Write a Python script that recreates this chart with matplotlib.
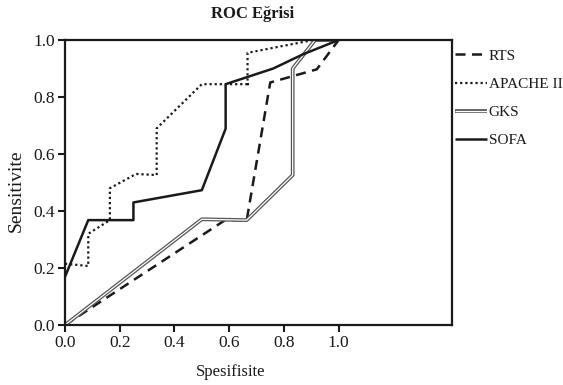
import matplotlib
matplotlib.use("Agg")
import matplotlib.pyplot as plt
import matplotlib.patheffects as pe
from matplotlib.lines import Line2D

plt.rcParams['font.family'] = ['Liberation Serif', 'DejaVu Serif']

# 1 - specificity (x) and sensitivity (y) for each score
rts_x = [0.0, 0.585, 0.664, 0.75, 0.92, 1.0]
rts_y = [0.0, 0.368, 0.368, 0.851, 0.897, 1.0]

apache_x = [0.0, 0.085, 0.085, 0.164, 0.164, 0.26, 0.335, 0.335, 0.5, 0.675, 0.667, 0.667, 0.907, 1.0]
apache_y = [0.215, 0.207, 0.32, 0.368, 0.48, 0.53, 0.526, 0.69, 0.845, 0.845, 0.845, 0.955, 1.0, 1.0]

gks_x = [0.0, 0.5, 0.664, 0.832, 0.832, 0.914, 1.0]
gks_y = [0.0, 0.371, 0.368, 0.526, 0.9, 1.0, 1.0]

sofa_x = [0.0, 0.085, 0.25, 0.25, 0.5, 0.587, 0.587, 0.761, 0.87, 1.0]
sofa_y = [0.169, 0.368, 0.368, 0.43, 0.473, 0.689, 0.845, 0.9, 0.95, 1.0]

xticks = [0.0, 0.2, 0.4, 0.6, 0.8, 1.0]
yticks = [0.0, 0.2, 0.4, 0.6, 0.8, 1.0]

fig = plt.figure(figsize=(5.63, 3.85), dpi=100)
ax = fig.add_axes([65/563, 1-325/385, (451.7-65)/563, (325-40)/385])

double = [pe.Stroke(linewidth=2.7, foreground='#555555'), pe.Normal()]

ax.plot(rts_x, rts_y, color='#1a1a1a', lw=1.8, linestyle=(0, (4, 2.6)), label='RTS')
ax.plot(apache_x, apache_y, color='#1a1a1a', lw=1.6, linestyle=(0, (1, 1.3)), label='APACHE II')
ax.plot(gks_x, gks_y, color='white', lw=0.9, solid_capstyle='butt', path_effects=double, label='GKS')
ax.plot(sofa_x, sofa_y, color='#1a1a1a', lw=1.8, solid_capstyle='butt', label='SOFA')

ax.set_xlim(0, 1.413)
ax.set_ylim(0, 1.0)
ax.set_xticks(xticks)
ax.set_xticklabels([f"{v:.1f}" for v in xticks])
ax.set_yticks(yticks)
ax.set_yticklabels([f"{v:.1f}" for v in yticks])
for s in ax.spines.values():
    s.set_linewidth(1.6)
    s.set_color('#1a1a1a')
ax.tick_params(direction='out', length=5, width=1.5, labelsize=12.5, pad=2.5, colors='#1a1a1a')

ax.set_xlabel('Spesifisite', fontsize=12, color='#1a1a1a')
ax.xaxis.set_label_coords((231-65)/(451.7-65), -(364-325)/(325-40))
ax.set_ylabel('Sensitivite', fontsize=14, color='#1a1a1a')
ax.yaxis.set_label_coords(-(65-25)/(451.7-65), (325-191)/(325-40))

fig.text(253/563, 1-14/385, 'ROC Eğrisi', ha='center', va='center', fontsize=12, fontweight='bold', color='#1a1a1a')

leg = fig.legend(*ax.get_legend_handles_labels(),
                 loc='upper left', bbox_to_anchor=(455/563, 1-49/385), bbox_transform=fig.transFigure,
                 frameon=False, borderpad=0, borderaxespad=0, handlelength=2.1, handletextpad=0.1,
                 labelspacing=0.95, fontsize=11)
for t in leg.get_texts():
    t.set_color('#1a1a1a')

fig.savefig('out.png', dpi=100)
